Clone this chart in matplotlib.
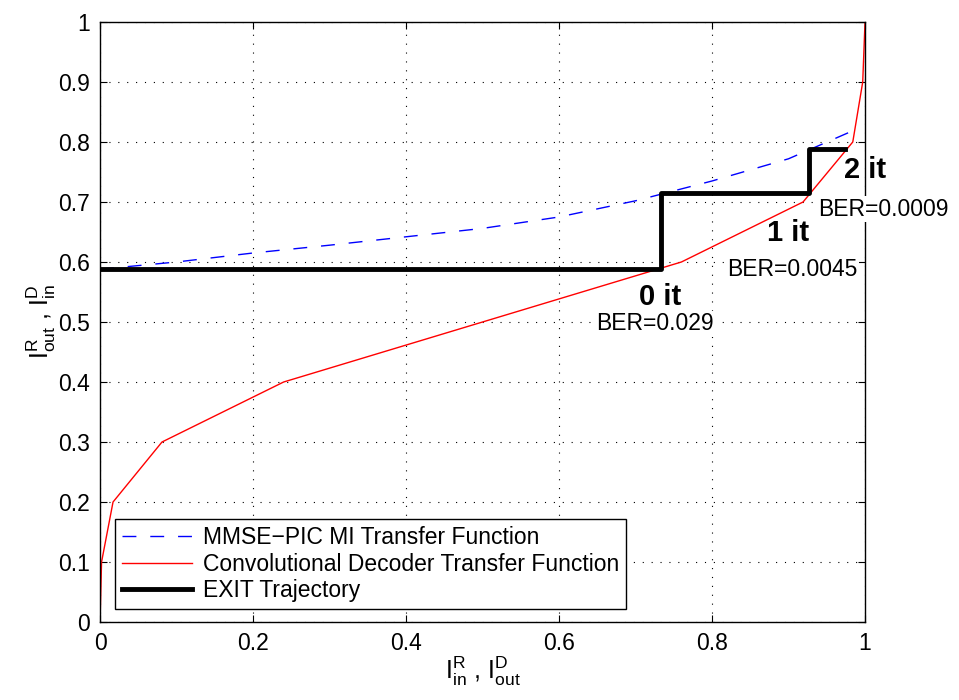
import matplotlib
matplotlib.use("Agg")
import matplotlib.pyplot as plt

plt.rcParams['font.family'] = ['Liberation Sans', 'DejaVu Sans']
plt.rcParams['mathtext.default'] = 'regular'

# Convolutional decoder transfer function
dec_x = [0.0, 0.002, 0.017, 0.081, 0.24, 0.76, 0.919, 0.984, 0.997, 1.0]
dec_y = [0.0, 0.1, 0.2, 0.3, 0.4, 0.6, 0.7, 0.8, 0.9, 1.0]

# MMSE-PIC MI transfer function
mmse_x = [0.0, 0.1, 0.2, 0.3, 0.4, 0.5, 0.6, 0.7, 0.8, 0.9, 0.99]
mmse_y = [0.588, 0.600, 0.615, 0.628, 0.642, 0.656, 0.675, 0.702, 0.735, 0.772, 0.822]

# EXIT trajectory
traj_x = [0.0, 0.733, 0.733, 0.927, 0.927, 0.974]
traj_y = [0.589, 0.589, 0.715, 0.715, 0.788, 0.788]

# iteration labels
it_labels = ["0 it", "1 it", "2 it"]
it_pos = [(0.732, 0.542), (0.899, 0.648), (1.0, 0.753)]
ber_labels = ["BER=0.029", "BER=0.0045", "BER=0.0009"]
ber_pos = [(0.725, 0.497), (0.905, 0.587), (1.0235, 0.688)]

fig = plt.figure(figsize=(9.59, 7.0), dpi=100)
ax = fig.add_axes([0.1043, 0.1114, 0.7977, 0.8572])

ax.plot(mmse_x, mmse_y, color='blue', linestyle=(0, (10, 10)), linewidth=1,
        label='MMSE\u2212PIC MI Transfer Function')
ax.plot(dec_x, dec_y, color='red', linewidth=1,
        label='Convolutional Decoder Transfer Function')
ax.plot(traj_x, traj_y, color='black', linewidth=3.5, label='EXIT Trajectory')

for t, (x, y) in zip(it_labels, it_pos):
    ax.text(x, y, t, fontsize=21, fontweight='bold', ha='center', va='center', zorder=6)
for t, (x, y) in zip(ber_labels, ber_pos):
    ax.text(x, y, t, fontsize=16.5, ha='center', va='center', zorder=5,
            bbox=dict(facecolor='white', edgecolor='none', pad=1))

ax.set_xlim(0, 1)
ax.set_ylim(0, 1)
ax.set_xticks([0, 0.2, 0.4, 0.6, 0.8, 1])
ax.set_xticklabels(['0', '0.2', '0.4', '0.6', '0.8', '1'])
ax.set_yticks([i / 10 for i in range(11)])
ax.set_yticklabels(['0', '0.1', '0.2', '0.3', '0.4', '0.5', '0.6', '0.7', '0.8', '0.9', '1'])
ax.tick_params(direction='in', top=True, right=True, labelsize=16.5, length=5, pad=7)
ax.grid(True, color='black', linestyle=(0, (1, 7)), linewidth=0.8)
for s in ax.spines.values():
    s.set_linewidth(1)

ax.set_xlabel(r'$I^{R}_{in}$ , $I^{D}_{out}$', fontsize=18, labelpad=0)
ax.set_ylabel(r'$I^{R}_{out}$ , $I^{D}_{in}$', fontsize=18, labelpad=0)

leg = ax.legend(loc='lower left', bbox_to_anchor=(0.0196, 0.0217), borderaxespad=0,
                fancybox=False, edgecolor='black', fontsize=16.5, handlelength=3.05,
                handletextpad=0.5, framealpha=1, borderpad=0.3, labelspacing=0.15)
leg.get_frame().set_linewidth(1)

fig.savefig("out.png", dpi=100)
